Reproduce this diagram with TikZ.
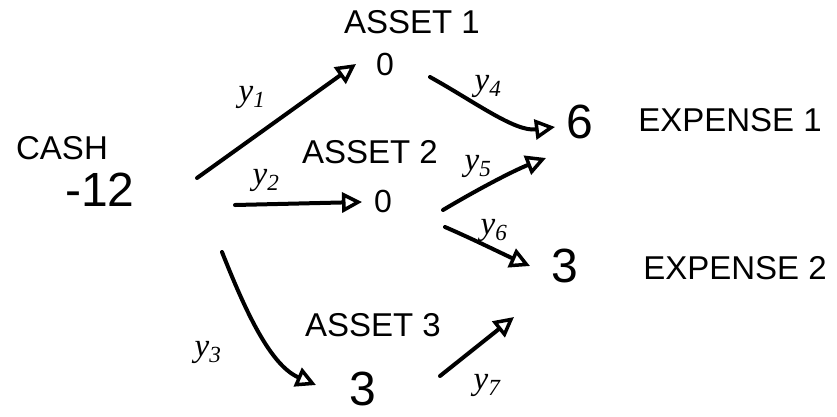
\documentclass[tikz,border=0pt]{standalone}
\usepackage{fontspec}
\setmainfont{Liberation Sans}
\newfontfamily\yfont{Liberation Serif}
\usetikzlibrary{arrows.meta}
\begin{document}
\begin{tikzpicture}[x=1pt,y=-1pt,
  word/.style={inner sep=0pt,font=\fontsize{33}{36}\selectfont},
  num/.style={inner sep=0pt,font=\fontsize{48}{52}\selectfont},
  small/.style={inner sep=0pt,font=\fontsize{32}{34}\selectfont},
  lab/.style={inner sep=0pt,font=\fontsize{33}{35}\selectfont\yfont\itshape},
  arr/.style={line width=4pt,line cap=round,
    -{Triangle[open,length=20pt,width=20pt,line width=3.5pt]}}]
\useasboundingbox (0,0) rectangle (837,416);
% texts
\node[word] (cash) at (62,148) {CASH};
\node[num] (cashv) at (100,190) {-12};
\node[word] (a1) at (412,22) {ASSET 1};
\node[small] (a1v) at (385,64) {0};
\node[word] (a2) at (370,152) {ASSET 2};
\node[small] (a2v) at (383,201) {0};
\node[word] (a3) at (373,325) {ASSET 3};
\node[num] (a3v) at (363,389) {3};
\node[num] (e1v) at (580,122) {6};
\node[word] (e1) at (730,120) {EXPENSE 1};
\node[num] (e2v) at (565,266) {3};
\node[word] (e2) at (735,268) {EXPENSE 2};
% connector ends
\coordinate (s1) at (197,178);
\coordinate (t1) at (356,64);
\coordinate (s2) at (235,205);
\coordinate (t2) at (362,202);
\coordinate (s3) at (222,252);
\coordinate (t3) at (316,385);
\coordinate (s4) at (430,77);
\coordinate (t4) at (555,127);
\coordinate (s5) at (443,210);
\coordinate (t5) at (546,158);
\coordinate (s6) at (445,227);
\coordinate (t6) at (530,266);
\coordinate (s7) at (440,376);
\coordinate (t7) at (514,317);
% connectors
\draw[arr] (s1) -- (t1);
\draw[arr] (s2) -- (t2);
\draw[arr] (s3) .. controls (245,310) and (270,365) .. (t3);
\draw[arr] (s4) .. controls (475,102) and (515,132) .. (t4);
\draw[arr] (s5) .. controls (480,188) and (515,170) .. (t5);
\draw[arr] (s6) .. controls (475,240) and (505,255) .. (t6);
\draw[arr] (s7) -- (t7);
% labels
\node[lab] (y1) at (252,97) {y\textsubscript{1}};
\node[lab] (y2) at (266,180) {y\textsubscript{2}};
\node[lab] (y3) at (208,352) {y\textsubscript{3}};
\node[lab] (y4) at (488,86) {y\textsubscript{4}};
\node[lab] (y5) at (478,166) {y\textsubscript{5}};
\node[lab] (y6) at (494,230) {y\textsubscript{6}};
\node[lab] (y7) at (487,385) {y\textsubscript{7}};
\end{tikzpicture}
\end{document}
